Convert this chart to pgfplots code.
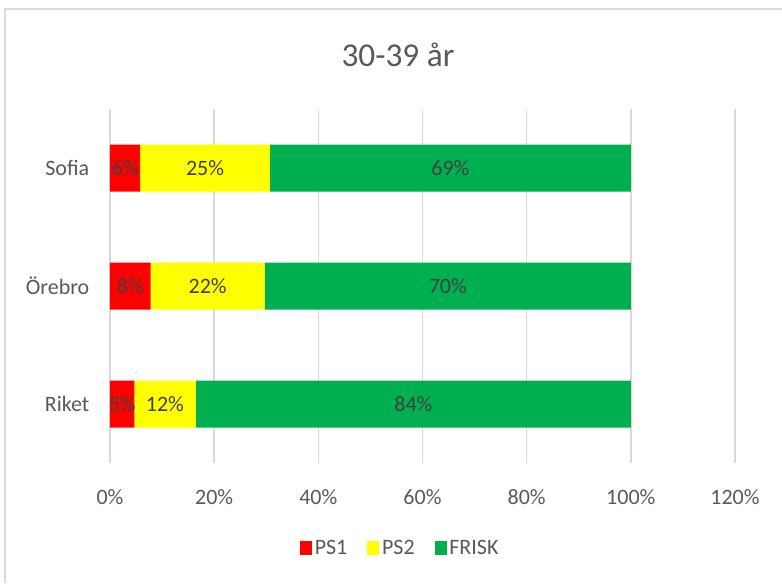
\documentclass[border=0pt]{standalone}
\usepackage{pgfplots}
\pgfplotsset{compat=1.18}
\usepackage{fontspec}
\setmainfont{Carlito}
\definecolor{ps1}{HTML}{FF0000}
\definecolor{ps2}{HTML}{FFFF00}
\definecolor{frisk}{HTML}{00B050}
\definecolor{txt}{HTML}{595959}
\definecolor{lbl}{HTML}{404040}
\definecolor{gridc}{HTML}{D9D9D9}
\begin{document}
\begin{tikzpicture}
\path[use as bounding box] (-82.5pt,-90pt) rectangle (504pt,347.25pt);
\draw[gridc, line width=0.8pt] (-78.75pt,-90pt) -- (-78.75pt,340.5pt) -- (504pt,340.5pt);
\node[text=txt, font=\fontsize{25}{30}\selectfont] at (216pt,306pt) {30-39 år};
\begin{axis}[
  at={(0,0)}, anchor=south west,
  scale only axis, width=468.75pt, height=265.5pt,
  xbar stacked, bar width=35.25pt,
  xmin=0, xmax=120, ymin=-0.5, ymax=2.5,
  xtick={0,20,...,120},
  xticklabel={\pgfmathprintnumber{\tick}\%},
  ytick={0,1,2}, yticklabels={Riket,Örebro,Sofia},
  axis line style={draw=none},
  major tick length=0pt,
  xmajorgrids=true, ymajorgrids=false,
  major grid style={draw=gridc, line width=1pt},
  /pgf/number format/assume math mode=true,
  tick label style={text=txt, font=\fontsize{16.5}{20}\selectfont},
  xticklabel style={yshift=-16pt},
  yticklabel style={xshift=-12pt},
  legend style={at={(0.465,-0.24)}, anchor=center, draw=none, fill=none,
    legend columns=3, font=\fontsize{16.5}{20}\selectfont, text=txt,
    /tikz/every even column/.append style={column sep=13pt}},
  legend image code/.code={\fill[#1] (0pt,-5pt) rectangle (9pt,5pt);},
]
\addplot[fill=ps1, draw=none] coordinates {(4.7,0) (7.8,1) (5.8,2)};
\addplot[fill=ps2, draw=none] coordinates {(11.8,0) (21.9,1) (24.9,2)};
\addplot[fill=frisk, draw=none] coordinates {(83.5,0) (70.3,1) (69.3,2)};
\legend{PS1,PS2,FRISK}
\end{axis}
\begin{axis}[
  at={(0,0)}, anchor=south west,
  scale only axis, width=468.75pt, height=265.5pt,
  xmin=0, xmax=120, ymin=-0.5, ymax=2.5,
  axis lines=none,
  nodes near coords, point meta=explicit symbolic,
  every node near coord/.append style={anchor=center, text=lbl, font=\fontsize{16.5}{20}\selectfont},
]
\addplot[only marks, mark=none, draw=none] table[meta=l] {
x y l
2.35 0 5\%
10.55 0 12\%
58.25 0 84\%
3.9 1 8\%
18.75 1 22\%
64.85 1 70\%
2.9 2 6\%
18.25 2 25\%
65.35 2 69\%
};
\end{axis}
\end{tikzpicture}
\end{document}
